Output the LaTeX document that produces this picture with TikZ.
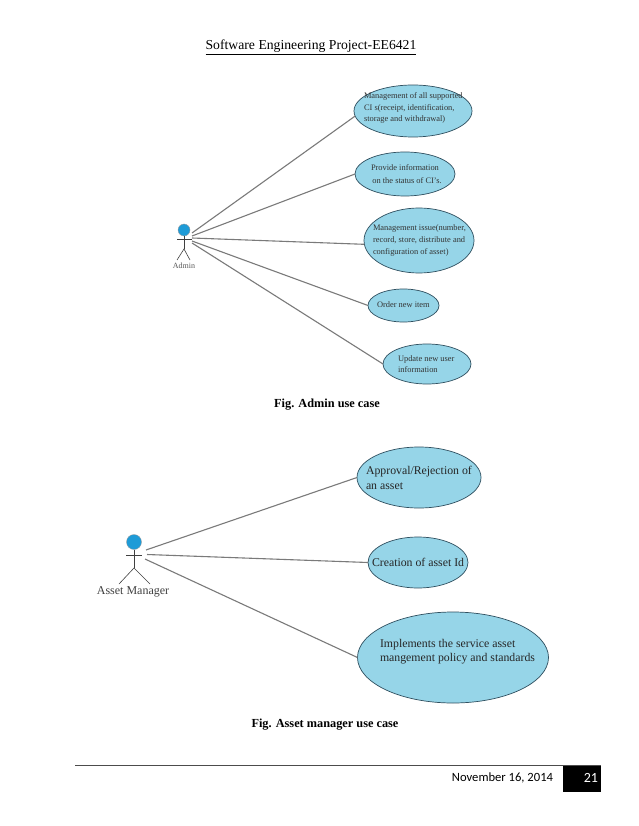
\documentclass[tikz,border=0pt]{standalone}
\usepackage{fontspec}
\setmainfont{Liberation Serif}
\newfontfamily\footfont{Carlito}
\usetikzlibrary{shapes.geometric}
\definecolor{ucfill}{HTML}{96D5E8}
\definecolor{headfill}{HTML}{1E9BD7}
\definecolor{linegray}{HTML}{7A7A7A}
\definecolor{edgedark}{HTML}{2F4F5F}
\tikzset{
  x=1pt,y=-1pt,
  usecase/.style={ellipse,draw=edgedark,fill=ucfill,line width=0.7pt,inner sep=0pt,outer sep=0pt},
  ucsmall/.style={font=\fontsize{8.4}{11.5}\selectfont,align=left,text=black!80},
  ucbig/.style={font=\fontsize{11.8}{14.5}\selectfont,align=left,text=black!85},
  assoc/.style={draw=linegray,line width=1.1pt},
  stick/.style={draw=black!75,line width=0.6pt},
  head/.style={circle,draw=black!40,fill=headfill,inner sep=0pt,outer sep=0pt,line width=0.3pt},
  caption/.style={font=\fontsize{12.3}{14}\selectfont\bfseries},
  free/.style={inner sep=0pt,outer sep=0pt}
}
\begin{document}
\begin{tikzpicture}
\useasboundingbox (0,0) rectangle (638,826);
\fill[white] (0,0) rectangle (638,826);
\node[free,font=\fontsize{13.7}{16}\selectfont] (hdr) at (311,47.5) {\underline{Software Engineering Project-EE6421}};

% Admin use cases
\node[usecase,minimum width=118pt,minimum height=52pt] (a1) at (413,111) {};
\node[usecase,minimum width=100pt,minimum height=44pt] (a2) at (405,174) {};
\node[usecase,minimum width=110pt,minimum height=65pt] (a3) at (419,240.5) {};
\node[usecase,minimum width=71pt,minimum height=33pt] (a4) at (403.5,305.5) {};
\node[usecase,minimum width=88pt,minimum height=40pt] (a5) at (427,364) {};
\node[free,ucsmall,anchor=west] (t1) at (364,108) {Management of all supported\\CI s(receipt, identification,\\storage and withdrawal)};
\node[free,ucsmall,anchor=west,font=\fontsize{8.4}{13}\selectfont] (t2) at (371,174) {Provide information\\\,on the status of CI's.};
\node[free,ucsmall,anchor=west,font=\fontsize{8.4}{12}\selectfont] (t3) at (373,240) {Management issue(number,\\record, store, distribute and\\configuration of asset)};
\node[free,ucsmall,anchor=west] (t4) at (377,305) {Order new item};
\node[free,ucsmall,anchor=west] (t5) at (398,364) {Update new user\\information};

% Admin actor
\node[head,minimum size=12pt] (ah) at (184,230) {};
\coordinate (ahip) at (184,249);
\coordinate (aarml) at (177,239);
\coordinate (aarmr) at (192,239);
\coordinate (alegl) at (177,260);
\coordinate (alegr) at (190,260);
\draw[stick] (ah.south) -- (ahip);
\draw[stick] (aarml) -- (aarmr);
\draw[stick] (alegl) -- (ahip) -- (alegr);
\node[free,font=\fontsize{8}{9}\selectfont,text=black!65] (alabel) at (184,266) {Admin};
\coordinate (as1) at (192,233);
\coordinate (as2) at (192,236);
\coordinate (as3) at (192,238);
\coordinate (as4) at (192,241);
\coordinate (as5) at (192,243);
\draw[assoc] (as1) -- (a1.185);
\draw[assoc] (as2) -- (a2.west);
\draw[assoc] (as3) -- (a3.184);
\draw[assoc] (as4) -- (a4.west);
\draw[assoc] (as5) -- (a5.west);

\node[caption] (c1) at (327,405) {Fig. Admin use case};

% Manager use cases
\node[usecase,minimum width=124pt,minimum height=61pt] (m1) at (419,477.5) {};
\node[usecase,minimum width=100pt,minimum height=51pt] (m2) at (418,562.5) {};
\node[usecase,minimum width=191pt,minimum height=91pt] (m3) at (453,657.5) {};
\node[free,ucbig,anchor=west] (t6) at (366,478) {Approval/Rejection of\\an asset};
\node[free,ucbig,anchor=west] (t7) at (372,562) {Creation of asset Id};
\node[free,ucbig,anchor=west] (t8) at (380,651.5) {Implements the service asset\\mangement policy and standards};

% Manager actor
\node[head,minimum size=15pt] (mh) at (134,542) {};
\coordinate (mhip) at (134,568);
\coordinate (marml) at (126,555);
\coordinate (marmr) at (142,555);
\coordinate (mlegl) at (119,584);
\coordinate (mlegr) at (150,584);
\draw[stick] (mh.south) -- (mhip);
\draw[stick] (marml) -- (marmr);
\draw[stick] (mlegl) -- (mhip) -- (mlegr);
\node[free,font=\fontsize{12}{14}\selectfont,text=black!75] (mlabel) at (133,591.5) {Asset Manager};
\coordinate (ms1) at (146,550);
\coordinate (ms2) at (147,554.5);
\coordinate (ms3) at (145,559);
\draw[assoc] (ms1) -- (m1.west);
\draw[assoc] (ms2) -- (m2.west);
\draw[assoc] (ms3) -- (m3.west);

\node[caption] (c2) at (325,725) {Fig. Asset manager use case};

% Footer
\coordinate (r1) at (75,765);
\coordinate (r2) at (601,765);
\draw[line width=0.8pt,draw=black!70] (r1) -- (r2);
\fill[black] (563,766) rectangle (601,792);
\node[free,font=\footfont\fontsize{12.6}{15}\selectfont,anchor=east] (date) at (553,778) {November 16, 2014};
\node[free,font=\footfont\fontsize{14}{16}\selectfont,text=white,anchor=east] (pg) at (598,778) {21};
\end{tikzpicture}
\end{document}
